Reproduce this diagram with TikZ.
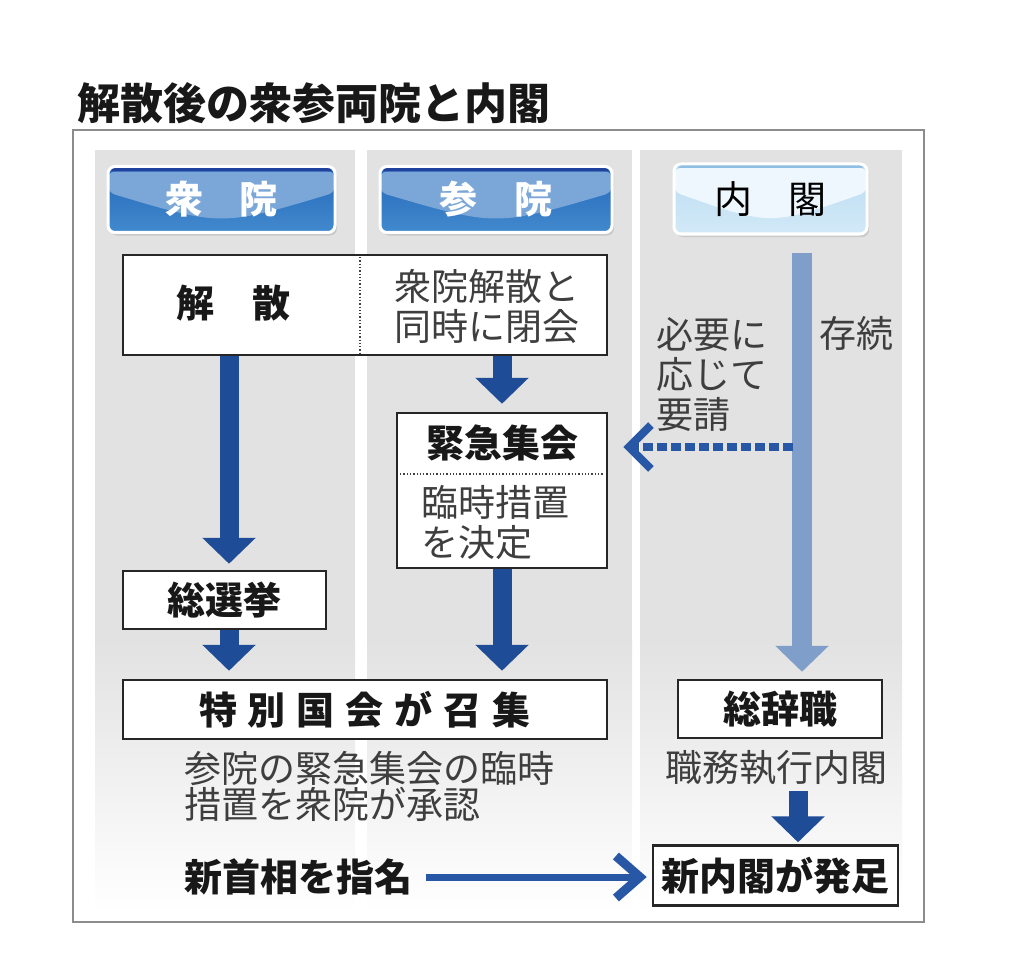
\documentclass[tikz,border=0pt]{standalone}
\usepackage{fontspec}
\setmainfont{Noto Sans CJK JP}
\usetikzlibrary{arrows.meta,shadows}

\definecolor{arrowblue}{RGB}{30,76,150}
\definecolor{paleblue}{RGB}{128,158,202}
\definecolor{dashblue}{RGB}{40,88,165}
\definecolor{colgray}{RGB}{226,226,226}
\definecolor{txtgray}{RGB}{62,62,62}
\definecolor{txtdark}{RGB}{24,24,24}
\definecolor{hdrhl}{RGB}{122,166,216}
\definecolor{hdrlow}{RGB}{36,102,184}
\definecolor{hdrbot}{RGB}{66,138,206}
\definecolor{hdrline}{RGB}{30,66,158}
\definecolor{cabhl}{RGB}{238,247,253}
\definecolor{cablow}{RGB}{186,220,241}
\definecolor{cabbot}{RGB}{210,233,248}
\definecolor{cabline}{RGB}{142,190,226}

\tikzset{
  every node/.style={inner sep=0pt},
  hdr/.style={rounded corners=7pt, minimum height=66pt, draw=white, line width=3pt,
    drop shadow={shadow xshift=2pt,shadow yshift=-3pt,opacity=0.25},
    font=\fontsize{38}{40}\selectfont},
  hdrblue/.style={hdr, top color=hdrlow, bottom color=hdrbot, text=white,
    font=\bfseries\fontsize{38}{40}\selectfont,
    path picture={
      \fill[hdrhl] ([yshift=-5pt]path picture bounding box.north west)
        -- ([yshift=-5pt]path picture bounding box.north east)
        -- ([yshift=-26pt]path picture bounding box.north east)
        .. controls ([yshift=-60pt]path picture bounding box.north)
        .. ([yshift=-26pt]path picture bounding box.north west) -- cycle;
      \fill[hdrline] (path picture bounding box.north west)
        rectangle ([yshift=-5pt]path picture bounding box.north east);}},
  hdrpale/.style={hdr, top color=cablow, bottom color=cabbot, text=black,
    path picture={
      \fill[cabhl] ([yshift=-4pt]path picture bounding box.north west)
        -- ([yshift=-4pt]path picture bounding box.north east)
        -- ([yshift=-28pt]path picture bounding box.north east)
        .. controls ([yshift=-62pt]path picture bounding box.north)
        .. ([yshift=-28pt]path picture bounding box.north west) -- cycle;
      \fill[cabline] (path picture bounding box.north west)
        rectangle ([yshift=-4pt]path picture bounding box.north east);}},
  flowbox/.style={draw=black!85, line width=2.5pt, fill=white},
  boldtxt/.style={font=\bfseries\fontsize{38}{40}\selectfont, text=txtdark},
  plaintxt/.style={font=\fontsize{37}{40}\selectfont, text=txtgray},
  bigarrow/.style={draw=arrowblue, line width=19pt, -{Triangle[width=52pt,length=26pt]}},
}

\begin{document}
\begin{tikzpicture}[x=1pt,y=-1pt]
\useasboundingbox (0,0) rectangle (1024,976);

% title and frame
\node[anchor=west, font=\bfseries\fontsize{43}{45}\selectfont, text=txtdark] (title) at (77,103) {解散後の衆参両院と内閣};
\draw[black!45, line width=1.8pt] (73,130) rectangle (924,922);

% columns
\fill[colgray] (95,150) rectangle (355,640);
\shade[top color=colgray, bottom color=white] (95,640) rectangle (355,912);
\fill[colgray] (367,150) rectangle (632,640);
\shade[top color=colgray, bottom color=white] (367,640) rectangle (632,912);
\fill[colgray] (640,150) rectangle (902,640);
\shade[top color=colgray, bottom color=white] (640,640) rectangle (902,912);

% headers
\node[hdrblue, minimum width=227pt] (shuin) at (221.5,199.5) {衆\hspace{0.95em}院};
\node[hdrblue, minimum width=232pt] (sanin) at (496,199.5) {参\hspace{0.95em}院};
\node[hdrpale, minimum width=193pt, minimum height=70pt] (naikaku) at (770.5,199) {内\hspace{0.95em}閣};

\coordinate (lane1) at (229,0);
\coordinate (lane2) at (502,0);
\coordinate (lane3) at (798,0);
\coordinate (keep) at (802,253);
\coordinate (req) at (793,447);

% boxes
\node[flowbox, minimum width=484pt, minimum height=100pt] (dissolve) at (365,305) {};
\draw[dotted, line width=1.3pt, black!75] (360,257) -- (360,353);
\node[boldtxt] (dissolveL) at (233,303) {解\hspace{1em}散};
\node[plaintxt, align=left] (dissolveR) at (486.5,306.5) {衆院解散と\\同時に閉会};

\node[flowbox, boldtxt, minimum width=203pt, minimum height=58pt] (senkyo) at (224.5,600) {総選挙};

\node[flowbox, minimum width=210pt, minimum height=155pt] (kinkyu) at (502,490.5) {};
\draw[dotted, line width=1.3pt, black!75] (400,474) -- (604,474);
\node[boldtxt] (kinkyuT) at (502,443) {緊急集会};
\node[plaintxt, anchor=west, align=left] (kinkyuB) at (421,522.5) {臨時措置\\を決定};

\node[flowbox, boldtxt, minimum width=484pt, minimum height=59pt] (tokubetsu) at (365,709.5)
  {特\hspace{11pt}別\hspace{11pt}国\hspace{11pt}会\hspace{11pt}が\hspace{11pt}召\hspace{11pt}集};
\node[plaintxt, font=\fontsize{37}{36}\selectfont, anchor=west, align=left] (shonin) at (184,786)
  {参院の緊急集会の臨時\\措置を衆院が承認};
\node[boldtxt, anchor=west] (nominate) at (184,877) {新首相を指名};

\node[plaintxt] (sonzoku) at (856,333) {存続};
\node[plaintxt, anchor=west, align=left] (yousei) at (656,375) {必要に\\応じて\\要請};

\node[flowbox, boldtxt, minimum width=204pt, minimum height=58pt] (soujishoku) at (780,709) {総辞職};
\node[plaintxt] (shokumu) at (776.5,768) {職務執行内閣};
\node[flowbox, boldtxt, minimum width=245pt, minimum height=60pt] (newcab) at (775.5,875.5) {新内閣が発足};

% arrows
\draw[bigarrow, shorten >=6pt] (dissolve.south -| lane1) -- (senkyo.north -| lane1);
\draw[bigarrow, shorten >=8pt] (senkyo.south -| lane1) -- (tokubetsu.north -| lane1);
\draw[bigarrow, shorten >=8pt] (dissolve.south -| lane2) -- (kinkyu.north -| lane2);
\draw[bigarrow, shorten >=8pt] (kinkyu.south -| lane2) -- (tokubetsu.north -| lane2);
\draw[bigarrow, draw=paleblue, line width=20pt, shorten >=7pt] (keep) -- (soujishoku.north -| keep);
\draw[dashblue, line width=8pt, dash pattern=on 10pt off 4pt,
  -{Straight Barb[length=22pt,width=44pt,line width=8pt]}, shorten >=15pt]
  (req) -- (kinkyu.east |- req);
\draw[bigarrow, shorten <=5pt, shorten >=2pt] (shokumu.south -| lane3) -- (newcab.north -| lane3);
\draw[dashblue, line width=7pt, -{Straight Barb[length=24pt,width=42pt,line width=9pt]},
  shorten <=14pt, shorten >=5pt] (nominate.east) -- (newcab.west |- nominate.east);
\end{tikzpicture}
\end{document}
